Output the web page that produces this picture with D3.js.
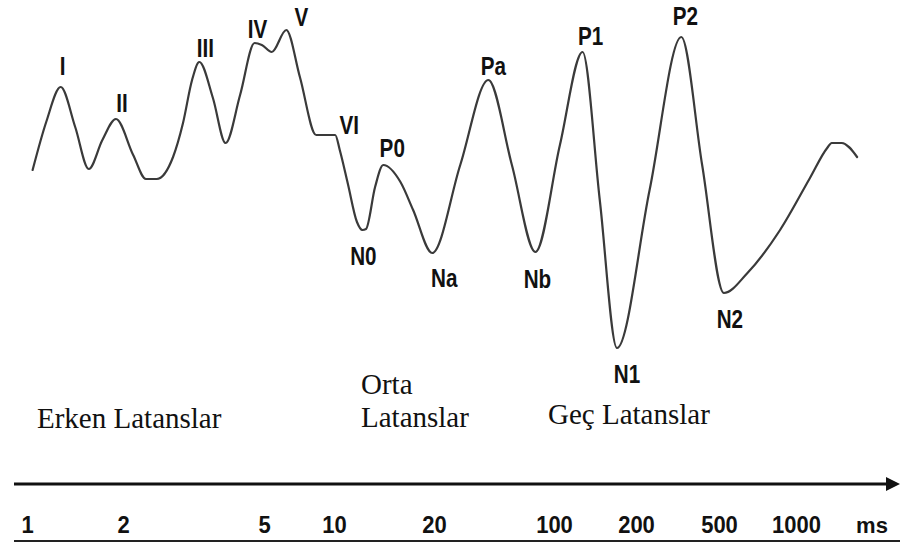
<!DOCTYPE html>
<html>
<head>
<meta charset="utf-8">
<script src="https://cdn.jsdelivr.net/npm/d3@7/dist/d3.min.js"></script>
<style>
  html, body { margin: 0; padding: 0; background: #fff; }
  svg { display: block; }
</style>
</head>
<body>
<div id="chart"></div>
<script>
// Schematic auditory evoked potential: sweep position (% of sweep) vs amplitude (µV)
const sweepPos = [3.6, 5.1, 6.7, 8.3, 9.8, 11.3, 12.8, 14.7, 16.1, 17.3, 19.1, 20.2, 21.2, 22.0,
  23.5, 24.9, 26.5, 28.1, 28.9, 30.0, 31.6, 33.1, 34.9, 37.0, 37.5, 38.4, 39.4, 40.0, 40.4,
  41.4, 42.3, 44.2, 45.6, 47.7, 50.8, 53.9, 56.5, 59.1, 61.8, 64.3, 66.2, 68.1, 71.7, 75.2,
  77.5, 79.9, 82.5, 86.1, 89.4, 91.3, 91.8, 92.9, 94.6];
const amplitude = [1.5, 3.9, 5.65, 3.65, 1.55, 3.0, 4.05, 2.25, 1.05, 1.05, 2.15, 3.85, 6.0, 6.9,
  5.1, 2.85, 5.25, 7.85, 7.75, 7.4, 8.5, 6.15, 3.25, 3.25, 2.5, 0.8, -1.1, -1.5, -1.45,
  0.65, 1.75, 0.9, -0.5, -2.65, 1.75, 6.0, 1.75, -2.6, 2.75, 7.4, 0, -7.4, 0.5, 8.15,
  1.75, -4.65, -3.65, -1.5, 1.1, 2.6, 2.85, 2.85, 2.15];

// Named components and the sample index where each one sits on the trace
const waveNames = ["I", "II", "III", "IV", "V", "VI", "N0", "P0", "Na", "Pa", "Nb", "P1", "N1", "P2", "N2"];
const waveIndex = [2, 6, 13, 17, 20, 23, 27, 30, 33, 35, 37, 39, 41, 43, 45];

// Latency axis
const tickValues = [1, 2, 5, 10, 20, 100, 200, 500, 1000];
const tickUnit = "ms";

// Latency groups
const groupLines = [["Erken Latanslar"], ["Orta", "Latanslar"], ["Geç Latanslar"]];

const W = 906, H = 545;
const svg = d3.select("#chart").append("svg").attr("width", W).attr("height", H);

const x = d3.scaleLinear().domain([0, 100]).range([0, W]);
const y = d3.scaleLinear().domain([-10, 10]).range([400, 0]);

const line = d3.line()
  .x(i => x(sweepPos[i]))
  .y(i => y(amplitude[i]))
  .curve(d3.curveMonotoneX);

svg.append("path")
  .datum(d3.range(sweepPos.length))
  .attr("d", line)
  .attr("fill", "none")
  .attr("stroke", "#3a3a3a")
  .attr("stroke-width", 2.2)
  .attr("stroke-linejoin", "round")
  .attr("stroke-linecap", "round");

// label offsets from each component's point (px)
const labelOffset = {
  I: [2, -12], II: [6, -7], III: [6, -5], IV: [3, -5], V: [15, -4], VI: [14, -1],
  N0: [1, 35], P0: [9, -8], Na: [12, 34], Pa: [5, -5], Nb: [2, 36], P1: [8, -7],
  N1: [10, 35], P2: [4, -12], N2: [6, 35]
};

svg.append("g").selectAll("text")
  .data(waveNames)
  .join("text")
  .attr("transform", (d, k) => {
    const i = waveIndex[k];
    const o = labelOffset[d];
    return `translate(${x(sweepPos[i]) + o[0]},${y(amplitude[i]) + o[1]}) scale(0.86,1.05)`;
  })
  .attr("text-anchor", "middle")
  .attr("font-family", "'Liberation Sans', Arial, sans-serif")
  .attr("font-weight", "bold")
  .attr("font-size", 24)
  .attr("fill", "#111")
  .text(d => d);

// Group captions
const serif = "'Liberation Serif', 'Times New Roman', serif";
const groupPos = [[37, 428], [361, 394], [548, 424]];
groupLines.forEach((lines, g) => {
  const t = svg.append("text")
    .attr("x", groupPos[g][0]).attr("y", groupPos[g][1])
    .attr("font-family", serif).attr("font-size", 29).attr("fill", "#111");
  lines.forEach((s, j) => {
    t.append("tspan").attr("x", groupPos[g][0]).attr("dy", j === 0 ? 0 : 33).text(s);
  });
});

// Time arrow
const arrowY = 484;
svg.append("line")
  .attr("x1", 14).attr("x2", 888).attr("y1", arrowY).attr("y2", arrowY)
  .attr("stroke", "#111").attr("stroke-width", 3.2);
svg.append("path")
  .attr("d", `M886,${arrowY - 7}L900,${arrowY}L886,${arrowY + 7}Z`)
  .attr("fill", "#111");

// Latency scale (non-uniform spacing of the printed ticks)
const t = d3.scaleLinear()
  .domain(tickValues)
  .range([27, 123, 264, 334, 434, 554, 636, 719, 796]);

const axis = svg.append("g")
  .attr("transform", "translate(0,516)")
  .call(d3.axisBottom(t).tickValues(tickValues).tickSize(0).tickPadding(0).tickFormat(d3.format("d")));
axis.select(".domain").remove();
axis.selectAll("text")
  .attr("font-family", "'Liberation Sans', Arial, sans-serif")
  .attr("font-weight", "bold")
  .attr("font-size", 22)
  .attr("fill", "#111")
  .attr("transform", "scale(1,1.05)")
  .attr("dy", "0.72em");

svg.append("text")
  .attr("x", 872).attr("y", 533)
  .attr("text-anchor", "middle")
  .attr("font-family", "'Liberation Sans', Arial, sans-serif")
  .attr("font-weight", "bold")
  .attr("font-size", 22)
  .attr("fill", "#111")
  .text(tickUnit);

svg.append("line")
  .attr("x1", 14).attr("x2", 900).attr("y1", 541).attr("y2", 541)
  .attr("stroke", "#222").attr("stroke-width", 2);
</script>
</body>
</html>
